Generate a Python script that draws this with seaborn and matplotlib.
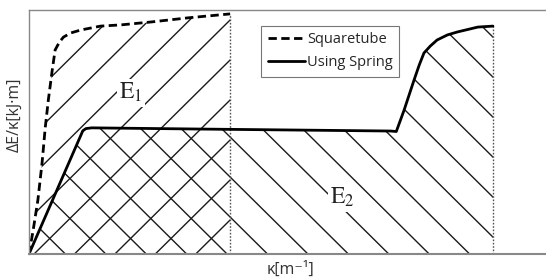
import numpy as np
import matplotlib
matplotlib.use("Agg")
import matplotlib.pyplot as plt
import seaborn as sns

# ------------------------------------------------------------
# Data (arbitrary units 0-100)
# ------------------------------------------------------------
sq_x = [0.0, 0.8, 1.7, 2.5, 3.1, 3.7, 4.45, 5.0, 5.8, 6.6, 8.0, 9.9, 13.7, 17.6, 23.4, 30.5, 38.5]
sq_y = [0.0, 9.8, 22.1, 37.3, 51.6, 63.1, 75.4, 83.6, 86.8, 88.9, 90.6, 91.8, 93.4, 93.9, 95.1, 96.8, 98.4]

sp_x = [0.0, 10.3, 10.9, 12.0, 33.1, 69.2, 70.3, 71.8, 73.7, 74.7, 75.6, 76.8,
        78.1, 80.1, 82.0, 85.9, 88.8]
sp_y = [0.0, 50.5, 51.4, 51.7, 51.2, 50.4, 50.2, 59.0, 71.3, 77.5, 82.4, 85.2,
        87.7, 89.8, 91.0, 93.0, 93.4]

series_labels = ["Squaretube", "Using Spring"]
region_labels = [r"$\mathrm{E_1}$", r"$\mathrm{E_2}$"]
region_pos = [(19.5, 66.0), (60.0, 23.0)]

# ------------------------------------------------------------
# Figure
# ------------------------------------------------------------
sns.set_style("white")
plt.rcParams["font.family"] = ["Open Sans", "DejaVu Sans"]
plt.rcParams["mathtext.fontset"] = "stix"

W, H = 546, 280
fig = plt.figure(figsize=(W / 100, H / 100), dpi=100)
ax = fig.add_axes([29 / W, 26 / H, 1 - 29 / W + 0.01, 244 / H])
ax.set_xlim(0, 100)
ax.set_ylim(0, 100)

# regions under the curves (used as clip paths for the hatching)
e1 = ax.fill_between(sq_x, 0, sq_y, facecolor="none", edgecolor="none")
e2 = ax.fill_between(sp_x, 0, sp_y, facecolor="none", edgecolor="none")

# hand-drawn 45 deg hatching, spaced in pixels
sx = 517 / 100
sy = 244 / 100
gap = 40
L = 800
for i in range(-15, 30):
    x0 = (i * gap + 5) / sx
    ln, = ax.plot([x0, x0 + L / sx], [0, L / sy], color="#1a1a1a", lw=1.0)
    ln.set_clip_path(e1.get_paths()[0], ax.transData)
    x1 = (i * gap + 36) / sx
    ln, = ax.plot([x1, x1 - L / sx], [0, L / sy], color="#1a1a1a", lw=1.0)
    ln.set_clip_path(e2.get_paths()[0], ax.transData)

# dotted limits
ax.plot([sq_x[-1], sq_x[-1]], [0, sq_y[-1]], color="#555555", lw=1.0, dashes=(1.2, 1.2))
ax.plot([sp_x[-1], sp_x[-1]], [0, sp_y[-1]], color="#555555", lw=1.0, dashes=(1.2, 1.2))

# curves
sns.lineplot(x=sq_x, y=sq_y, ax=ax, color="black", lw=2.0, sort=False,
             linestyle=(0, (3, 1.6)), label=series_labels[0])
sns.lineplot(x=sp_x, y=sp_y, ax=ax, color="black", lw=2.0, sort=False,
             label=series_labels[1])

# region labels
for lab, (x, y) in zip(region_labels, region_pos):
    ax.text(x, y, lab, fontsize=17, ha="center", va="center", color="#222222",
            bbox=dict(facecolor="white", edgecolor="none", pad=1.5))

# legend
leg = ax.legend(loc="upper left", bbox_to_anchor=(0.444, 0.935), fontsize=10.5,
                frameon=True, fancybox=False, edgecolor="#555555",
                handlelength=2.6, handletextpad=0.1, labelspacing=0.55,
                borderpad=0.45, borderaxespad=0)
leg.get_frame().set_linewidth(0.8)

# axes frame
for side in ["left", "top", "bottom"]:
    ax.spines[side].set_color("#888888")
    ax.spines[side].set_linewidth(1.0)
ax.spines["bottom"].set_linewidth(1.5)
ax.spines["right"].set_visible(False)
ax.set_xticks([])
ax.set_yticks([])

ax.set_xlabel("κ[m⁻¹]", fontsize=11.5, color="#333333")
ax.set_ylabel("ΔE/κ[kJ·m]", fontsize=11.5, color="#333333")
ax.xaxis.set_label_coords(0.5, -0.032)
ax.yaxis.set_label_coords(-0.012, 0.57)

fig.savefig("out.png", dpi=100)
